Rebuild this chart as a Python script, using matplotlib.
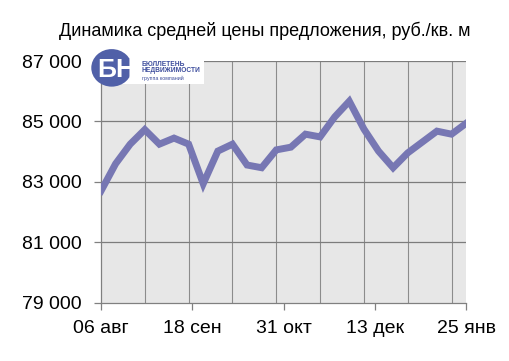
import matplotlib.pyplot as plt
import numpy as np
from matplotlib.patches import Ellipse, Rectangle

plt.rcParams['font.family'] = ['Liberation Sans', 'DejaVu Sans']

# средняя цена предложения, руб./кв. м (по неделям)
prices = [82700, 83600, 84250, 84730, 84250, 84450, 84250, 82940, 84020, 84250,
          83560, 83470, 84060, 84150, 84580, 84490, 85150, 85670, 84750, 84020,
          83470, 83960, 84320, 84680, 84580, 84940]
date_labels = ['06 авг', '18 сен', '31 окт', '13 дек', '25 янв']
y_ticks = [79000, 81000, 83000, 85000, 87000]

x = np.arange(len(prices))

fig = plt.figure(figsize=(5.1, 3.61), dpi=100)
ax = fig.add_axes([0.198, 0.161, 0.716, 0.670])
ax.set_facecolor('#e7e7e7')

ax.plot(x, prices, color='#7777b3', linewidth=5, solid_joinstyle='miter', zorder=3)

ax.set_xlim(0, len(prices) - 1)
ax.set_ylim(79000, 87000)

ax.set_yticks(y_ticks)
ax.set_yticklabels([format(v, ',').replace(',', '\u00a0') for v in y_ticks])
ax.set_xticks(np.linspace(0, len(prices) - 1, len(date_labels)))
ax.set_xticklabels(date_labels)

# вертикальная сетка фона
for gx in np.arange(3, len(prices) - 1, 3):
    ax.axvline(gx, color='#8c8c8c', linewidth=0.8, zorder=1)
for gy in y_ticks[1:]:
    ax.axhline(gy, color='#7c7c7c', linewidth=0.9, zorder=1)

for s in ['top', 'right']:
    ax.spines[s].set_visible(False)
for s in ['left', 'bottom']:
    ax.spines[s].set_color('#808080')
    ax.spines[s].set_linewidth(0.9)
ax.tick_params(axis='both', colors='#808080', labelcolor='black', labelsize=14,
               length=5, width=0.9, direction='out')
ax.tick_params(axis='x', pad=7)
ax.tick_params(axis='y', pad=9)

fig.text(0.52, 0.915, 'Динамика средней цены предложения, руб./кв. м',
         ha='center', va='center', fontsize=13)

# логотип
fig.patches.append(Rectangle((0.235, 0.767), 0.165, 0.075, transform=fig.transFigure,
                             facecolor='white', edgecolor='none', zorder=5))
fig.patches.append(Ellipse((0.219, 0.812), 0.08, 0.104, transform=fig.transFigure,
                           facecolor='#5060a8', edgecolor='none', zorder=6))
fig.text(0.228, 0.806, 'БН', ha='center', va='center', fontsize=19, fontweight='bold',
         color='white', zorder=7)
fig.text(0.278, 0.813, 'БЮЛЛЕТЕНЬ\nНЕДВИЖИМОСТИ', ha='left', va='center', fontsize=4.8,
         fontweight='bold', color='#3c4c9c', linespacing=0.95, zorder=7)
fig.text(0.278, 0.784, 'группа компаний', ha='left', va='center', fontsize=3.8,
         color='#3c4c9c', zorder=7)

plt.savefig('out.png', dpi=100)
